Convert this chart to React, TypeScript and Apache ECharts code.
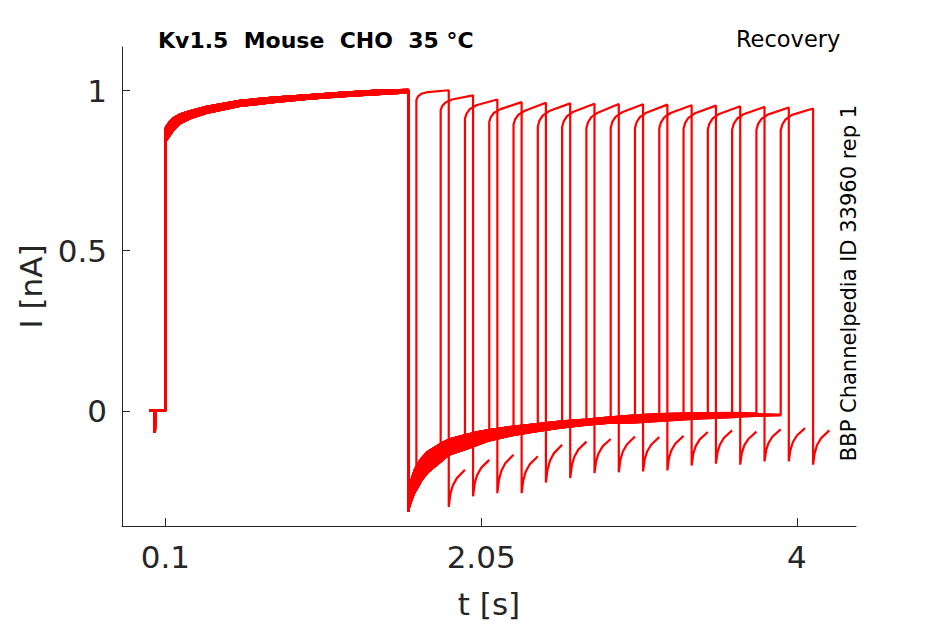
import React, { useEffect, useRef } from "react";
import * as echarts from "echarts";

// ---- data ----
const xTicks = [0.1, 2.05, 4];
const yTicks = [0, 0.5, 1];

// holding + small artefact before the conditioning pulse
const preT = [0, 0.034, 0.035, 0.038, 0.039, 0.1];
const preI = [0, 0, -0.069, -0.069, 0, 0];

// conditioning pulse (band edges)
const firstT = [0.1, 0.106, 0.127, 0.147, 0.188, 0.25, 0.353, 0.559, 0.765, 0.971, 1.177, 1.383, 1.6];
const firstUpper = [0.88, 0.887, 0.902, 0.913, 0.925, 0.935, 0.949, 0.968, 0.978, 0.985, 0.993, 0.999, 1.002];
const firstLower = [0.84, 0.845, 0.861, 0.876, 0.897, 0.913, 0.93, 0.952, 0.964, 0.974, 0.982, 0.988, 0.994];

// tail after conditioning pulse (band edges)
const tailT = [1.6, 1.605, 1.62, 1.64, 1.65, 1.68, 1.72, 1.8, 1.85, 1.95, 2.03, 2.1, 2.25, 2.4, 2.55, 2.7, 2.85, 3.0, 3.15, 3.3, 3.45, 3.6, 3.75, 3.9];
const tailUpper = [-0.3, -0.26, -0.215, -0.185, -0.175, -0.15, -0.128, -0.103, -0.09, -0.076, -0.066, -0.06, -0.049, -0.041, -0.033, -0.027, -0.02, -0.014, -0.01, -0.008, -0.007, -0.006, -0.008, -0.01];
const tailLower = [-0.315, -0.3, -0.278, -0.252, -0.245, -0.217, -0.191, -0.158, -0.137, -0.12, -0.105, -0.092, -0.075, -0.063, -0.052, -0.043, -0.037, -0.036, -0.031, -0.027, -0.023, -0.02, -0.016, -0.014];

// test pulse start times (s)
const testStart = [1.65, 1.8, 1.95, 2.1, 2.25, 2.4, 2.55, 2.7, 2.85, 3.0, 3.15, 3.3, 3.45, 3.6, 3.75, 3.9];

// test pulse current at offsets from its start
const testOffsets = [0, 0.01, 0.03, 0.07, 0.2];
const testLevels = [
  [0.97, 0.982, 0.99, 0.995, 1.001],
  [0.939, 0.952, 0.963, 0.972, 0.985],
  [0.913, 0.928, 0.942, 0.954, 0.972],
  [0.902, 0.917, 0.931, 0.942, 0.964],
  [0.894, 0.91, 0.925, 0.937, 0.962],
  [0.888, 0.906, 0.922, 0.936, 0.96],
  [0.886, 0.904, 0.92, 0.934, 0.959],
  [0.883, 0.901, 0.917, 0.931, 0.958],
  [0.884, 0.902, 0.918, 0.932, 0.957],
  [0.883, 0.901, 0.917, 0.931, 0.956],
  [0.882, 0.9, 0.916, 0.93, 0.954],
  [0.881, 0.899, 0.915, 0.929, 0.953],
  [0.879, 0.897, 0.913, 0.927, 0.951],
  [0.878, 0.896, 0.912, 0.926, 0.949],
  [0.877, 0.895, 0.911, 0.925, 0.947],
  [0.876, 0.894, 0.91, 0.924, 0.944],
];

// tail after the test pulse, offsets from the test pulse end
const afterOffsets = [0, 0.01, 0.025, 0.05, 0.1];
const afterLevels = [
  [-0.3, -0.259, -0.233, -0.21, -0.184],
  [-0.267, -0.227, -0.201, -0.178, -0.153],
  [-0.257, -0.215, -0.187, -0.163, -0.137],
  [-0.257, -0.217, -0.19, -0.167, -0.142],
  [-0.224, -0.183, -0.156, -0.132, -0.106],
  [-0.21, -0.17, -0.144, -0.121, -0.096],
  [-0.194, -0.157, -0.133, -0.111, -0.088],
  [-0.192, -0.153, -0.127, -0.105, -0.08],
  [-0.189, -0.152, -0.127, -0.106, -0.082],
  [-0.186, -0.148, -0.123, -0.102, -0.078],
  [-0.171, -0.134, -0.11, -0.089, -0.066],
  [-0.165, -0.129, -0.105, -0.084, -0.061],
  [-0.168, -0.132, -0.108, -0.088, -0.065],
  [-0.158, -0.123, -0.1, -0.08, -0.058],
  [-0.158, -0.122, -0.098, -0.077, -0.054],
  [-0.168, -0.131, -0.106, -0.085, -0.061],
];
const testDuration = 0.2;

const FONT = "DejaVu Sans";
const RED = "#ff0000";
const AXIS = "#262626";

function buildSweep(k: number) {
  const up = k % 2 === 0;
  const fp = up ? firstUpper : firstLower;
  const tl = up ? tailUpper : tailLower;
  const s = testStart[k];
  const pts: number[][] = [];
  preT.forEach((t, i) => pts.push([t, preI[i]]));
  firstT.forEach((t, i) => pts.push([t, fp[i]]));
  tailT.forEach((t, i) => {
    if (t <= s + 1e-9) pts.push([t, tl[i]]);
  });
  testOffsets.forEach((o, j) => pts.push([s + o, testLevels[k][j]]));
  afterOffsets.forEach((o, j) => pts.push([s + testDuration + o, afterLevels[k][j]]));
  return pts;
}

function bandSeries(ts: number[], upper: number[], lower: number[]) {
  return {
    type: "custom",
    coordinateSystem: "cartesian2d",
    silent: true,
    z: 2,
    data: ts.map((t, i) => [t, upper[i], lower[i]]),
    encode: { x: 0, y: [1, 2] },
    renderItem: (params: any, api: any) => {
      if (params.dataIndex !== 0) return { type: "group", children: [] };
      const pts: number[][] = [];
      ts.forEach((t, i) => pts.push(api.coord([t, upper[i]])));
      for (let i = ts.length - 1; i >= 0; i--) pts.push(api.coord([ts[i], lower[i]]));
      return {
        type: "polygon",
        shape: { points: pts },
        style: { fill: RED, stroke: RED, lineWidth: 1 },
      };
    },
  };
}

export default function App() {
  const ref = useRef<HTMLDivElement>(null);
  useEffect(() => {
    if (!ref.current) return;
    const chart = echarts.init(ref.current, null, { renderer: "svg" });
    const sweeps = testStart.map((_, k) => ({
      type: "line",
      data: buildSweep(k),
      showSymbol: false,
      symbol: "none",
      silent: true,
      z: 3,
      lineStyle: { color: RED, width: 2.2 },
    }));
    const option: any = {
      animation: false,
      textStyle: { fontFamily: FONT },
      grid: { left: 122, top: 47, width: 734, height: 479 },
      xAxis: {
        type: "value",
        min: -0.168,
        max: 4.365,
        axisLine: { show: true, onZero: false, lineStyle: { color: AXIS, width: 1 } },
        axisTick: { show: true, inside: true, length: 8, customValues: xTicks, lineStyle: { color: AXIS } },
        axisLabel: {
          customValues: xTicks,
          fontSize: 31,
          color: AXIS,
          margin: 15,
          fontFamily: FONT,
          formatter: (v: number) => String(v),
        },
        splitLine: { show: false },
        name: "t [s]",
        nameLocation: "middle",
        nameGap: 62,
        nameTextStyle: { fontSize: 31, color: AXIS, fontFamily: FONT },
      },
      yAxis: {
        type: "value",
        min: -0.3595,
        max: 1.136,
        axisLine: { show: true, onZero: false, lineStyle: { color: AXIS, width: 1 } },
        axisTick: { show: true, inside: true, length: 8, customValues: yTicks, lineStyle: { color: AXIS } },
        axisLabel: {
          customValues: yTicks,
          fontSize: 31,
          color: AXIS,
          margin: 15,
          fontFamily: FONT,
          formatter: (v: number) => String(v),
        },
        splitLine: { show: false },
        name: "I [nA]",
        nameLocation: "middle",
        nameGap: 76,
        nameTextStyle: { fontSize: 31, color: AXIS, fontFamily: FONT },
      },
      graphic: [
        {
          type: "text",
          x: 158,
          y: 40,
          style: {
            text: "Kv1.5  Mouse  CHO  35 °C",
            fontSize: 22,
            fontWeight: "bold",
            fontFamily: FONT,
            fill: "#000",
            align: "left",
            verticalAlign: "middle",
            textAlign: "left",
            textVerticalAlign: "middle",
          },
        },
        {
          type: "text",
          x: 736,
          y: 39,
          style: {
            text: "Recovery",
            fontSize: 22.5,
            fontFamily: FONT,
            fill: "#000",
            align: "left",
            verticalAlign: "middle",
            textAlign: "left",
            textVerticalAlign: "middle",
          },
        },
        {
          type: "text",
          x: 849,
          y: 283,
          rotation: Math.PI / 2,
          style: {
            text: "BBP Channelpedia ID 33960 rep 1",
            fontSize: 21,
            fontFamily: FONT,
            fill: "#000",
            align: "center",
            verticalAlign: "middle",
            textAlign: "center",
            textVerticalAlign: "middle",
          },
        },
      ],
      series: [bandSeries(firstT, firstUpper, firstLower), bandSeries(tailT, tailUpper, tailLower), ...sweeps],
    };
    chart.setOption(option);
    return () => chart.dispose();
  }, []);
  return (
    <div
      ref={ref}
      style={{ position: "fixed", left: 0, top: 0, width: "945px", height: "624px", background: "#fff" }}
    />
  );
}
